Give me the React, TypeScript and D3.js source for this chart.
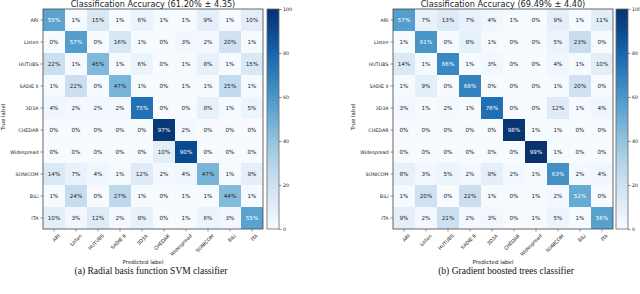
import React, { useEffect, useRef } from 'react';
import * as d3 from 'd3';

const labels = ['ARI', 'Listen', 'HUTUBS', 'SADIE II', '3D3A', 'CHEDAR', 'Widespread', 'SONICOM', 'BiLi', 'ITA'];

const svmValues = [
  [55, 1, 15, 1, 6, 1, 1, 9, 1, 10],
  [0, 57, 0, 16, 1, 0, 3, 2, 20, 1],
  [22, 1, 45, 1, 6, 0, 1, 8, 1, 15],
  [1, 22, 0, 47, 1, 0, 1, 1, 25, 1],
  [4, 2, 2, 2, 75, 0, 0, 8, 1, 5],
  [0, 0, 0, 0, 0, 97, 2, 0, 0, 0],
  [0, 0, 0, 0, 0, 10, 90, 0, 0, 0],
  [14, 7, 4, 1, 12, 2, 4, 47, 1, 9],
  [1, 24, 0, 27, 1, 0, 1, 1, 44, 1],
  [10, 3, 12, 2, 8, 0, 1, 6, 3, 55],
];

const gbtValues = [
  [57, 7, 13, 7, 4, 1, 0, 9, 1, 11],
  [1, 61, 0, 8, 1, 0, 0, 5, 23, 0],
  [14, 1, 66, 1, 3, 0, 0, 4, 1, 10],
  [1, 9, 0, 68, 0, 0, 0, 1, 20, 0],
  [3, 1, 2, 1, 76, 0, 0, 12, 1, 4],
  [0, 0, 0, 0, 0, 98, 1, 1, 0, 0],
  [0, 0, 0, 0, 0, 0, 99, 1, 0, 0],
  [8, 3, 5, 2, 9, 2, 1, 63, 2, 4],
  [1, 20, 0, 22, 1, 0, 1, 2, 52, 0],
  [9, 2, 21, 2, 3, 0, 1, 5, 1, 56],
];

const colorTicks = [0, 20, 40, 60, 80, 100];

const panels = [
  { values: svmValues, title: 'Classification Accuracy (61.20% \u00b1 4.35)', caption: '(a) Radial basis function SVM classifier', left: 43, barLeft: 267 },
  { values: gbtValues, title: 'Classification Accuracy (69.49% \u00b1 4.40)', caption: '(b) Gradient boosted trees classifier', left: 393, barLeft: 616 },
];

const font = 'DejaVu Sans, sans-serif';

export default function App() {
  const ref = useRef<SVGSVGElement>(null);

  useEffect(() => {
    const svg = d3.select(ref.current);
    svg.selectAll('*').remove();

    const top = 9;
    const size = 220;
    const color = d3.scaleSequential(d3.interpolateBlues).domain([0, 100]);

    panels.forEach((p, pi) => {
      const g = svg.append('g');
      const x = d3.scaleBand().domain(labels).range([p.left, p.left + size]);
      const y = d3.scaleBand().domain(labels).range([top, top + size]);

      // cells
      p.values.forEach((row, i) => {
        row.forEach((v, j) => {
          g.append('rect')
            .attr('x', x(labels[j])!)
            .attr('y', y(labels[i])!)
            .attr('width', x.bandwidth())
            .attr('height', y.bandwidth())
            .attr('fill', color(v));
          g.append('text')
            .attr('x', x(labels[j])! + x.bandwidth() / 2)
            .attr('y', y(labels[i])! + y.bandwidth() / 2)
            .attr('dy', '0.35em')
            .attr('text-anchor', 'middle')
            .attr('font-family', font)
            .attr('font-size', 5.6)
            .attr('fill', v > 50 ? '#fff' : '#222')
            .text(v + '%');
        });
      });

      g.append('rect')
        .attr('x', p.left).attr('y', top)
        .attr('width', size).attr('height', size)
        .attr('fill', 'none').attr('stroke', '#444').attr('stroke-width', 0.8);

      // y axis
      const ya = g.append('g')
        .attr('transform', `translate(${p.left},0)`)
        .call(d3.axisLeft(y).tickSize(2.5).tickPadding(2));
      ya.select('.domain').remove();
      ya.selectAll('text').attr('font-family', font).attr('font-size', 4.8).attr('fill', '#222');
      ya.selectAll('line').attr('stroke', '#444').attr('stroke-width', 0.6);

      // x axis
      const xa = g.append('g')
        .attr('transform', `translate(0,${top + size})`)
        .call(d3.axisBottom(x).tickSize(2.5).tickPadding(2));
      xa.select('.domain').remove();
      xa.selectAll('line').attr('stroke', '#444').attr('stroke-width', 0.6);
      xa.selectAll('text')
        .attr('font-family', font).attr('font-size', 4.8).attr('fill', '#222')
        .attr('text-anchor', 'end')
        .attr('dy', '0.3em')
        .attr('transform', 'translate(2,3)rotate(-45)');

      // titles
      g.append('text')
        .attr('x', p.left + size / 2).attr('y', 7)
        .attr('text-anchor', 'middle')
        .attr('font-family', font).attr('font-size', 8.2).attr('fill', '#222')
        .text(p.title);
      g.append('text')
        .attr('transform', `translate(${p.left - 38},${top + size / 2 - 2})rotate(-90)`)
        .attr('text-anchor', 'middle')
        .attr('font-family', font).attr('font-size', 5.5).attr('fill', '#222')
        .text('True label');
      g.append('text')
        .attr('x', p.left + size / 2 - 10).attr('y', 264)
        .attr('text-anchor', 'middle')
        .attr('font-family', font).attr('font-size', 5.5).attr('fill', '#222')
        .text('Predicted label');
      g.append('text')
        .attr('x', p.left + size / 2 - 2 + (pi === 1 ? 5 : 0)).attr('y', 274)
        .attr('text-anchor', 'middle')
        .attr('font-family', 'Liberation Serif, serif').attr('font-size', 9.5).attr('fill', '#111')
        .text(p.caption);

      // colorbar
      const barW = 12;
      const cy = d3.scaleLinear().domain([0, 100]).range([top + size, top]);
      const id = `grad${pi}`;
      const grad = svg.append('defs').append('linearGradient')
        .attr('id', id).attr('x1', 0).attr('y1', 1).attr('x2', 0).attr('y2', 0);
      d3.range(0, 1.01, 0.1).forEach(t => {
        grad.append('stop').attr('offset', t).attr('stop-color', color(t * 100));
      });
      g.append('rect')
        .attr('x', p.barLeft).attr('y', top)
        .attr('width', barW).attr('height', size)
        .attr('fill', `url(#${id})`)
        .attr('stroke', '#666').attr('stroke-width', 0.8);
      const ca = g.append('g')
        .attr('transform', `translate(${p.barLeft + barW},0)`)
        .call(d3.axisRight(cy).tickValues(colorTicks).tickSize(2.5).tickPadding(1.5));
      ca.select('.domain').remove();
      ca.selectAll('line').attr('stroke', '#444').attr('stroke-width', 0.6);
      ca.selectAll('text').attr('font-family', font).attr('font-size', 4.8).attr('fill', '#222');
    });
  }, []);

  return (
    <div style={{ position: 'absolute', left: 0, top: 0 }}>
      <svg ref={ref} width={640} height={294} style={{ display: 'block', background: '#fff' }} />
    </div>
  );
}
